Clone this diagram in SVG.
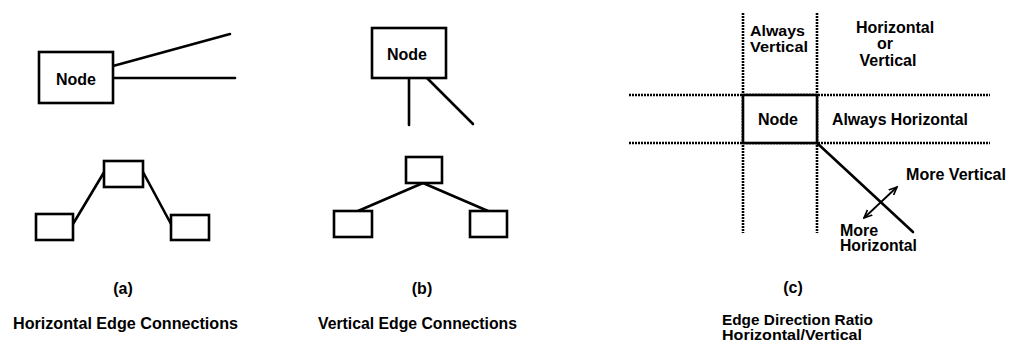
<svg xmlns="http://www.w3.org/2000/svg" width="1009" height="343" viewBox="0 0 1009 343">
<defs>
<style>
text{font-family:"Liberation Sans",Arial,sans-serif;font-weight:bold;font-size:16px;fill:#000}
.sm{font-size:14.5px}
.box{fill:#fff;stroke:#000;stroke-width:2.6}
.edge{stroke:#000;stroke-width:2.6;fill:none;stroke-linecap:round}
.dot{stroke:#000;stroke-width:2.6;stroke-dasharray:2 1;fill:none}
.thin{stroke:#000;stroke-width:1.8;fill:none}
.mid{text-anchor:middle}
</style>
<marker id="ah" viewBox="0 0 10 10" refX="9" refY="5" markerWidth="9" markerHeight="9" markerUnits="userSpaceOnUse" orient="auto-start-reverse">
<path d="M0,1 L9,5 L0,9" fill="none" stroke="#000" stroke-width="1.8"/>
</marker>
</defs>
<rect width="1009" height="343" fill="#fff"/>

<g id="connectors">
<line class="edge" x1="113" y1="66" x2="230" y2="34"/>
<line class="edge" x1="113" y1="78" x2="235" y2="78"/>
<line class="edge" x1="73" y1="224" x2="106" y2="169"/>
<line class="edge" x1="143" y1="172" x2="171" y2="224"/>
<line class="edge" x1="409" y1="78" x2="409" y2="125"/>
<line class="edge" x1="427" y1="78" x2="473" y2="124"/>
<line class="edge" x1="423" y1="183" x2="358" y2="211"/>
<line class="edge" x1="423" y1="183" x2="488" y2="211"/>
<line class="edge" x1="817" y1="143" x2="913" y2="232"/>
<line class="thin" x1="864" y1="218" x2="897" y2="187" marker-start="url(#ah)" marker-end="url(#ah)"/>
</g>

<g id="grid-lines">
<line class="dot" x1="743" y1="13" x2="743" y2="233"/>
<line class="dot" x1="817" y1="13" x2="817" y2="233"/>
<line class="dot" x1="629" y1="95" x2="990" y2="95"/>
<line class="dot" x1="629" y1="143" x2="990" y2="143"/>
</g>

<g id="node-a">
<rect class="box" x="39" y="52" width="74" height="51"/>
<text class="mid" x="76" y="85">Node</text>
</g>
<g id="node-a-top"><rect class="box" x="104" y="161" width="39" height="26"/></g>
<g id="node-a-left"><rect class="box" x="36" y="214" width="37" height="26"/></g>
<g id="node-a-right"><rect class="box" x="171" y="215" width="38" height="25"/></g>

<g id="node-b">
<rect class="box" x="372" y="28" width="74" height="50"/>
<text class="mid" x="407" y="60">Node</text>
</g>
<g id="node-b-top"><rect class="box" x="406" y="157" width="36" height="26"/></g>
<g id="node-b-left"><rect class="box" x="334" y="211" width="38" height="26"/></g>
<g id="node-b-right"><rect class="box" x="470" y="211" width="37" height="26"/></g>

<g id="node-c">
<rect class="box" x="743" y="95" width="74" height="48"/>
<text class="mid" x="778" y="125">Node</text>
</g>

<g id="labels">
<text class="sm" x="750" y="36" textLength="55" lengthAdjust="spacingAndGlyphs">Always</text>
<text class="sm" x="750" y="52" textLength="58" lengthAdjust="spacingAndGlyphs">Vertical</text>
<text class="mid" x="895" y="33">Horizontal</text>
<text class="mid" x="885" y="49">or</text>
<text class="mid" x="888" y="66">Vertical</text>
<text x="832" y="125" textLength="136" lengthAdjust="spacingAndGlyphs">Always Horizontal</text>
<text x="906" y="180" textLength="100" lengthAdjust="spacingAndGlyphs">More Vertical</text>
<text x="840" y="236">More</text>
<text x="840" y="251" textLength="77" lengthAdjust="spacingAndGlyphs">Horizontal</text>

<text class="mid" x="123" y="294">(a)</text>
<text class="mid" x="422" y="294">(b)</text>
<text class="mid" x="793" y="293">(c)</text>

<text x="13" y="329" textLength="225" lengthAdjust="spacingAndGlyphs">Horizontal Edge Connections</text>
<text x="318" y="329" textLength="199" lengthAdjust="spacingAndGlyphs">Vertical Edge Connections</text>
<text class="sm" x="722" y="325" textLength="151" lengthAdjust="spacingAndGlyphs">Edge Direction Ratio</text>
<text class="sm" x="722" y="340" textLength="140" lengthAdjust="spacingAndGlyphs">Horizontal/Vertical</text>
</g>
</svg>
